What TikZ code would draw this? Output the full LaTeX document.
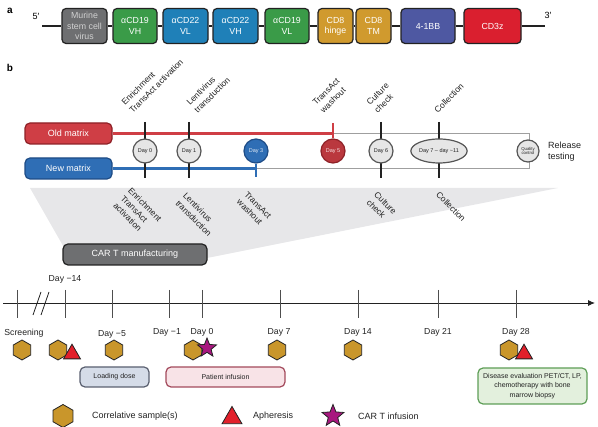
\documentclass[tikz,border=0pt]{standalone}
\usepackage{fontspec}
\setmainfont{Liberation Sans}
\usetikzlibrary{shapes.geometric,arrows.meta}
\definecolor{cgrey}{HTML}{6E6F71}
\definecolor{cgreen}{HTML}{3A9B48}
\definecolor{cblue}{HTML}{1F80B8}
\definecolor{cgold}{HTML}{D09A2E}
\definecolor{cviolet}{HTML}{4E58A2}
\definecolor{cred}{HTML}{DA1F2F}
\definecolor{oldred}{HTML}{CF3E45}
\definecolor{oldredd}{HTML}{8E2127}
\definecolor{newblue}{HTML}{2F6EB5}
\definecolor{newblued}{HTML}{1E4C86}
\definecolor{funnelgrey}{HTML}{E7E7E9}
\definecolor{hexgold}{HTML}{C9962B}
\definecolor{apred}{HTML}{E2202B}
\definecolor{starmag}{HTML}{A8177F}
\definecolor{ldfill}{HTML}{D5DCE8}
\definecolor{ldline}{HTML}{5A6070}
\definecolor{pifill}{HTML}{F8E3E7}
\definecolor{piline}{HTML}{A34A5C}
\definecolor{defill}{HTML}{E3F0DD}
\definecolor{deline}{HTML}{5E9E57}
\definecolor{dayfill}{HTML}{E6E6E6}
\definecolor{dayline}{HTML}{555555}
\definecolor{ink}{HTML}{222222}
\tikzset{
  gene/.style={draw=ink, line width=1.2pt, rounded corners=4pt, text=white, align=center,
    font=\fontsize{8.8}{10.3}\selectfont, minimum height=35pt, inner sep=1pt},
  backbone/.style={line width=2pt, ink},
  matrixbox/.style={line width=1.2pt, rounded corners=5pt, text=white, minimum width=87pt,
    minimum height=21pt, inner sep=0pt, font=\fontsize{9}{10}\selectfont},
  daycirc/.style={circle, draw=dayline, fill=dayfill, line width=1.2pt, minimum size=24pt,
    inner sep=0pt, font=\fontsize{5.5}{6}\selectfont, text=ink},
  tickline/.style={line width=1.6pt, ink},
  uplabel/.style={rotate=45, anchor=south west, inner sep=0pt, align=left,
    font=\fontsize{8.5}{11}\selectfont, text=ink},
  downlabel/.style={rotate=-45, anchor=north west, inner sep=0pt, align=left,
    font=\fontsize{8.5}{10.5}\selectfont, text=ink},
  tltick/.style={line width=0.8pt, ink!80},
  daylabel/.style={font=\fontsize{8.7}{10}\selectfont, text=ink, inner sep=0pt},
  hexa/.style={regular polygon, regular polygon sides=6, shape border rotate=30, draw=ink,
    fill=hexgold, line width=0.8pt, minimum size=20pt, inner sep=0pt},
  tri/.style={regular polygon, regular polygon sides=3, draw=ink, fill=apred,
    line width=0.8pt, minimum size=19.6pt, inner sep=0pt},
  starx/.style={star, star points=5, star point ratio=2.3, draw=ink, fill=starmag,
    line width=0.8pt, minimum size=20pt, inner sep=0pt},
  phasebox/.style={line width=1.2pt, rounded corners=5pt, inner sep=1pt, align=center,
    font=\fontsize{7}{9.5}\selectfont, text=ink},
  legtext/.style={anchor=west, inner sep=0pt, font=\fontsize{9}{10}\selectfont, text=ink},
}
\begin{document}
\begin{tikzpicture}[x=1pt,y=-1pt]
\useasboundingbox (0,0) rectangle (598,427);

% ---------- panel a ----------
\node[font=\fontsize{10}{11}\selectfont\bfseries, inner sep=0pt] (la) at (10,11) {a};
\node[font=\fontsize{9}{10}\selectfont, inner sep=0pt] (five) at (36,16) {5′};
\node[font=\fontsize{9}{10}\selectfont, inner sep=0pt] (three) at (548,15) {3′};
\coordinate (p5) at (42,26);
\coordinate (p3) at (545,26);

\node[gene, fill=cgrey, text=white!82!black, minimum width=45pt] (msc) at (84.5,26) {Murine\\stem cell\\virus};
\node[gene, fill=cgreen, minimum width=44pt] (vh19) at (135,26) {αCD19\\VH};
\node[gene, fill=cblue, minimum width=45pt] (vl22) at (185.5,26) {αCD22\\VL};
\node[gene, fill=cblue, minimum width=45pt] (vh22) at (235.5,26) {αCD22\\VH};
\node[gene, fill=cgreen, minimum width=44pt] (vl19) at (287,26) {αCD19\\VL};
\node[gene, fill=cgold, minimum width=35pt] (hinge) at (335.5,26) {CD8\\hinge};
\node[gene, fill=cgold, minimum width=35pt] (tm) at (373.5,26) {CD8\\TM};
\node[gene, fill=cviolet, minimum width=54pt] (bb) at (428,26) {4-1BB};
\node[gene, fill=cred, minimum width=57pt] (cd3) at (492.5,26) {CD3z};

\draw[backbone] (p5) -- (msc);
\draw[backbone] (msc) -- (vh19);
\draw[backbone] (vh19) -- (vl22);
\draw[backbone] (vl22) -- (vh22);
\draw[backbone] (vh22) -- (vl19);
\draw[backbone] (vl19) -- (hinge);
\draw[backbone] (hinge) -- (tm);
\draw[backbone] (tm) -- (bb);
\draw[backbone] (bb) -- (cd3);
\draw[backbone] (cd3) -- (p3);

% ---------- panel b ----------
\node[font=\fontsize{10}{11}\selectfont\bfseries, inner sep=0pt] (lb) at (10,68) {b};

% shaded funnel
\fill[funnelgrey] (30,188) -- (558,188) -- (207,258) -- (70,258) -- cycle;

\node[matrixbox, fill=oldred, draw=oldredd] (old) at (68.5,133.5) {Old matrix};
\node[matrixbox, fill=newblue, draw=newblued] (new) at (68.5,168.5) {New matrix};

\coordinate (r5) at (333,133.5);
\coordinate (b3) at (256,168.5);
\coordinate (qa) at (529,133.5);
\coordinate (qb) at (529,168.5);
\draw[gray!75, line width=0.8pt] (r5) -- (qa) -- (qb) -- (b3);
\draw[oldred, line width=3pt] (old) -- (r5);
\draw[newblue, line width=3pt] (new) -- (b3);

\foreach \x/\n in {145/a,189/b,381/c,439/d}{
  \coordinate (tt\n) at (\x,122);
  \coordinate (tb\n) at (\x,178);
  \draw[tickline] (tt\n) -- (tb\n);
}
\coordinate (r5top) at (333,123);
\coordinate (b3bot) at (256,177);

\node[daycirc] (d0) at (145,151) {Day 0};
\node[daycirc] (d1) at (189,151) {Day 1};
\node[daycirc, fill=newblue, draw=newblued, text=white!85!newblue] (d3) at (256,151) {Day 3};
\node[daycirc, fill=oldred!90!black, draw=oldredd, text=white!85!oldred] (d5) at (333,151) {Day 5};
\node[daycirc] (d6) at (381,151) {Day 6};
\node[daycirc, ellipse, minimum width=48pt, minimum height=24pt] (d7) at (439,151) {Day 7 – day \textasciitilde 11};
\node[daycirc, minimum size=22pt, align=center, font=\fontsize{4.3}{4.6}\selectfont] (qc) at (528,151) {Quality\\control};
\draw[oldred, line width=1.5pt] (r5top) -- (d5);
\draw[newblue, line width=1.5pt] (d3) -- (b3bot);

\node[font=\fontsize{9}{11}\selectfont, anchor=west, align=left, inner sep=0pt, text=ink] (rel) at (548,152) {Release\\testing};

% upper rotated labels
\node[uplabel] (u1) at (133,114) {Enrichment\\TransAct activation};
\node[uplabel] (u2) at (198,114) {Lentivirus\\transduction};
\node[uplabel] (u3) at (324,114) {TransAct\\washout};
\node[uplabel] (u4) at (378,114) {Culture\\check};
\node[uplabel] (u5) at (438,114) {Collection};

% lower rotated labels
\node[downlabel] (w1) at (132,187) {Enrichment\\TransAct\\activation};
\node[downlabel] (w2) at (187,192) {Lentivirus\\transduction};
\node[downlabel] (w3) at (248,191) {TransAct\\washout};
\node[downlabel] (w4) at (378,191) {Culture\\check};
\node[downlabel] (w5) at (440,191) {Collection};

\node[matrixbox, fill=cgrey, draw=ink, minimum width=144pt] (cart) at (135,254.5) {CAR T manufacturing};

% ---------- timeline ----------
\coordinate (tl0) at (3,303);
\coordinate (tl1) at (595,303);
\draw[line width=0.9pt, ink, -{Latex[length=7pt,width=6pt]}] (tl0) -- (tl1);
\foreach \x/\n in {17/a,65/b,112/c,169/d,202/e,280/f,358/g,438/h,516/i}{
  \coordinate (kt\n) at (\x,290);
  \coordinate (kb\n) at (\x,318);
  \draw[tltick] (kt\n) -- (kb\n);
}
\coordinate (sa1) at (33,315); \coordinate (sa2) at (41,292);
\coordinate (sb1) at (41,315); \coordinate (sb2) at (49,292);
\draw[line width=0.8pt, ink] (sa1) -- (sa2);
\draw[line width=0.8pt, ink] (sb1) -- (sb2);

\node[daylabel] (lm14) at (65,279) {Day −14};
\node[daylabel] (lscr) at (24,333) {Screening};
\node[daylabel] (lm5) at (112,334) {Day −5};
\node[daylabel] (lm1) at (167,332) {Day −1};
\node[daylabel] (l0) at (202,332) {Day 0};
\node[daylabel] (l7) at (279,332) {Day 7};
\node[daylabel] (l14) at (358,332) {Day 14};
\node[daylabel] (l21) at (438,332) {Day 21};
\node[daylabel] (l28) at (516,332) {Day 28};

\node[hexa] (h1) at (22,350) {};
\node[hexa] (h2) at (58,350) {};
\node[tri] (a1) at (72,354) {};
\node[hexa] (h3) at (114,350) {};
\node[hexa] (h4) at (193,350) {};
\node[starx] (s1) at (207,348) {};
\node[hexa] (h5) at (277,350) {};
\node[hexa] (h6) at (353,350) {};
\node[hexa] (h7) at (509,350) {};
\node[tri] (a2) at (524,354) {};

\node[phasebox, fill=ldfill, draw=ldline, minimum width=69pt, minimum height=20pt] (load) at (114.5,377) {Loading dose};
\node[phasebox, fill=pifill, draw=piline, minimum width=119pt, minimum height=20pt] (pinf) at (225.5,377) {Patient infusion};
\node[phasebox, fill=defill, draw=deline, minimum width=109pt, minimum height=36pt] (deval) at (532.5,386) {Disease evaluation PET/CT, LP,\\chemotherapy with bone\\marrow biopsy};

% ---------- legend ----------
\node[hexa, minimum size=23pt] (lh) at (63,416) {};
\node[legtext] (lht) at (92,416) {Correlative sample(s)};
\node[tri, minimum size=23pt] (lt) at (232,418) {};
\node[legtext] (ltt) at (253,416) {Apheresis};
\node[starx, minimum size=23pt] (ls) at (333,416) {};
\node[legtext] (lst) at (358,416) {CAR T infusion};
\end{tikzpicture}
\end{document}
